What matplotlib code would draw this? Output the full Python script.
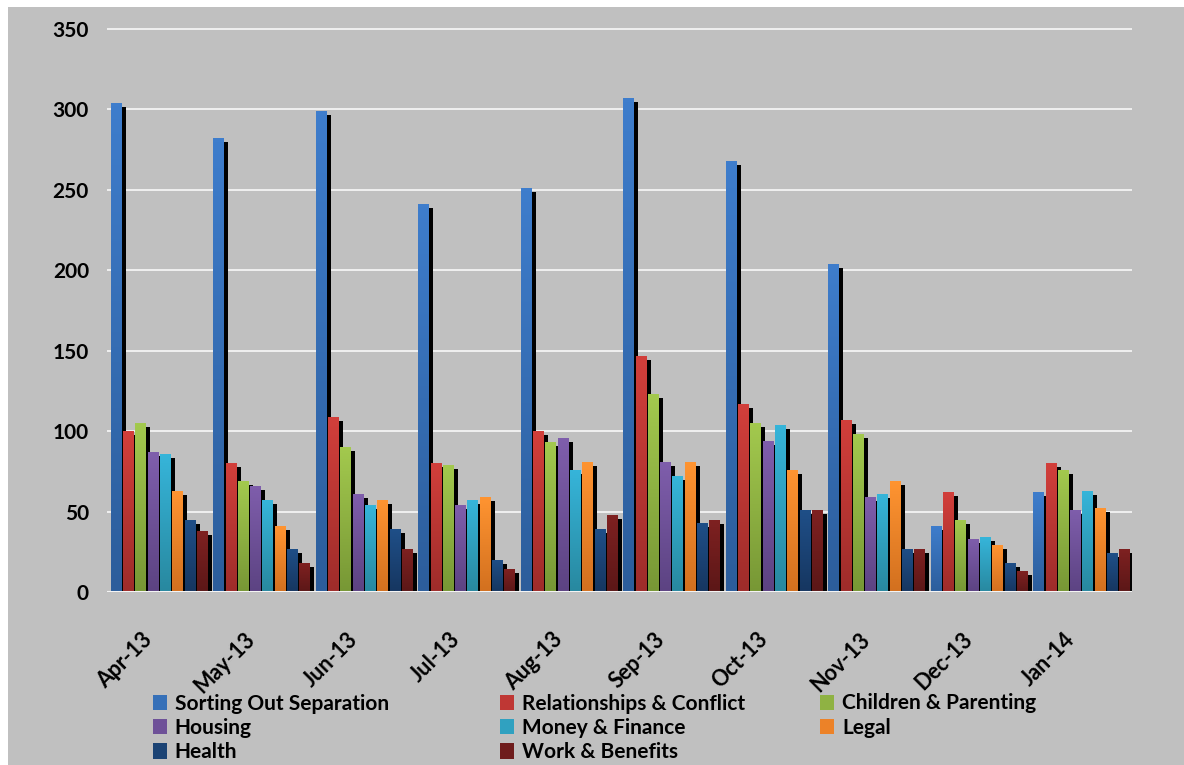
import numpy as np
import matplotlib
matplotlib.use('Agg')
import matplotlib.pyplot as plt
from matplotlib.colors import LinearSegmentedColormap
from matplotlib.patches import Patch, Rectangle
from matplotlib.transforms import ScaledTranslation

plt.rcParams['font.family'] = ['Lato', 'DejaVu Sans']

months = ['Apr-13', 'May-13', 'Jun-13', 'Jul-13', 'Aug-13', 'Sep-13', 'Oct-13', 'Nov-13', 'Dec-13', 'Jan-14']
series_names = ['Sorting Out Separation', 'Relationships & Conflict', 'Children & Parenting',
                'Housing', 'Money & Finance', 'Legal', 'Health', 'Work & Benefits']
sorting = [304, 282, 299, 241, 251, 307, 268, 204, 41, 62]
relationships = [100, 80, 109, 80, 100, 147, 117, 107, 62, 80]
children = [105, 69, 90, 79, 93, 123, 105, 98, 45, 76]
housing = [87, 66, 61, 54, 96, 81, 94, 59, 33, 51]
money = [86, 57, 54, 57, 76, 72, 104, 61, 34, 63]
legal = [63, 41, 57, 59, 81, 81, 76, 69, 29, 52]
health = [45, 27, 39, 20, 39, 43, 51, 27, 18, 24]
work = [38, 18, 27, 14, 48, 45, 51, 27, 13, 27]
yticks = [0, 50, 100, 150, 200, 250, 300, 350]

series_values = [sorting, relationships, children, housing, money, legal, health, work]
top_colors = ['#3E7DCC', '#D23F3B', '#A3C94E', '#7F5EAC', '#36B5DA', '#FF9431', '#1F4F88', '#7F2121']
bot_colors = ['#2C5D9B', '#9E2C2A', '#779735', '#5C4382', '#28889F', '#D2701F', '#163660', '#5B1717']
mid_colors = ['#3670B8', '#BF3734', '#8FB243', '#6E5198', '#30A1C0', '#EC8228', '#1B4374', '#6E1C1C']

BG = '#C0C0C0'
W, H = 1184, 765
fig = plt.figure(figsize=(W / 100, H / 100), dpi=100, facecolor='white')
fig.patches.append(Rectangle((8 / W, 0), 1 - 8 / W, 1 - 7 / H, transform=fig.transFigure,
                             facecolor=BG, edgecolor='none', zorder=-5))

y0_px, y350_px = 592, 29
ppu = (y0_px - y350_px) / 350.0
ytop = 352
ax_left, ax_right = 107, 1132
ax = fig.add_axes([ax_left / W, 1 - y0_px / H, (ax_right - ax_left) / W, (ytop * ppu) / H])
ax.set_facecolor(BG)
for s in ax.spines.values():
    s.set_visible(False)

x = np.arange(len(months))
step = 0.12
width = 0.103
cat_px = (ax_right - ax_left) / len(months)
dx_sh = 4.5 / cat_px
dy_sh = 4.0 / ppu
grad = np.linspace(0, 1, 128).reshape(-1, 1)

for i, vals in enumerate(series_values):
    vals = np.array(vals, dtype=float)
    pos = x - 3.5 * step + i * step + 0.008
    ax.bar(pos + dx_sh, vals - dy_sh, width, color='black', zorder=3 + 3 * i, linewidth=0)
    bars = ax.bar(pos, vals, width, color=mid_colors[i], zorder=4 + 3 * i, linewidth=0)
    cmap = LinearSegmentedColormap.from_list('g%d' % i, [bot_colors[i], top_colors[i]])
    for b in bars:
        bx, by = b.get_x(), b.get_y()
        im = ax.imshow(grad, extent=[bx, bx + b.get_width(), by, by + b.get_height()],
                       origin='lower', aspect='auto', cmap=cmap, zorder=5 + 3 * i,
                       interpolation='bilinear')
        im.set_clip_path(b)

ax.set_xlim(-0.5, len(months) - 0.5)
ax.set_ylim(0, ytop)
ax.set_yticks(yticks)
ax.set_yticklabels([str(v) for v in yticks], fontsize=15, fontweight='bold')
ax.yaxis.grid(True, color='#F4F4F4', linewidth=1.3)
ax.set_axisbelow(True)
ax.tick_params(axis='y', length=0, pad=13)
ax.axhline(0, color='#F4F4F4', linewidth=2.2, zorder=40)

ax.set_xticks(x)
ax.set_xticklabels(months, fontsize=15.5, fontweight='bold', rotation=45,
                   ha='right', va='center', rotation_mode='anchor')
ax.tick_params(axis='x', length=0, pad=0)
off = ScaledTranslation(-9 / 100, -44 / 100, fig.dpi_scale_trans)
for lab in ax.get_xticklabels():
    lab.set_transform(lab.get_transform() + off)

handles = [Patch(facecolor=c, edgecolor='none') for c in mid_colors]
cols = [[0, 3, 6], [1, 4, 7], [2, 5]]
col_x = [153, 500, 820]
col_yc = [728, 728, 715.5]
for idx, cx, cy in zip(cols, col_x, col_yc):
    fig.legend([handles[k] for k in idx], [series_names[k] for k in idx],
               loc='center left', bbox_to_anchor=(cx / W, 1 - cy / H),
               frameon=False, borderpad=0, borderaxespad=0,
               handlelength=0.65, handleheight=0.75, handletextpad=0.4,
               labelspacing=0.2, prop={'size': 15, 'weight': 'bold'})

fig.savefig('out.png', dpi=100, facecolor='white')
